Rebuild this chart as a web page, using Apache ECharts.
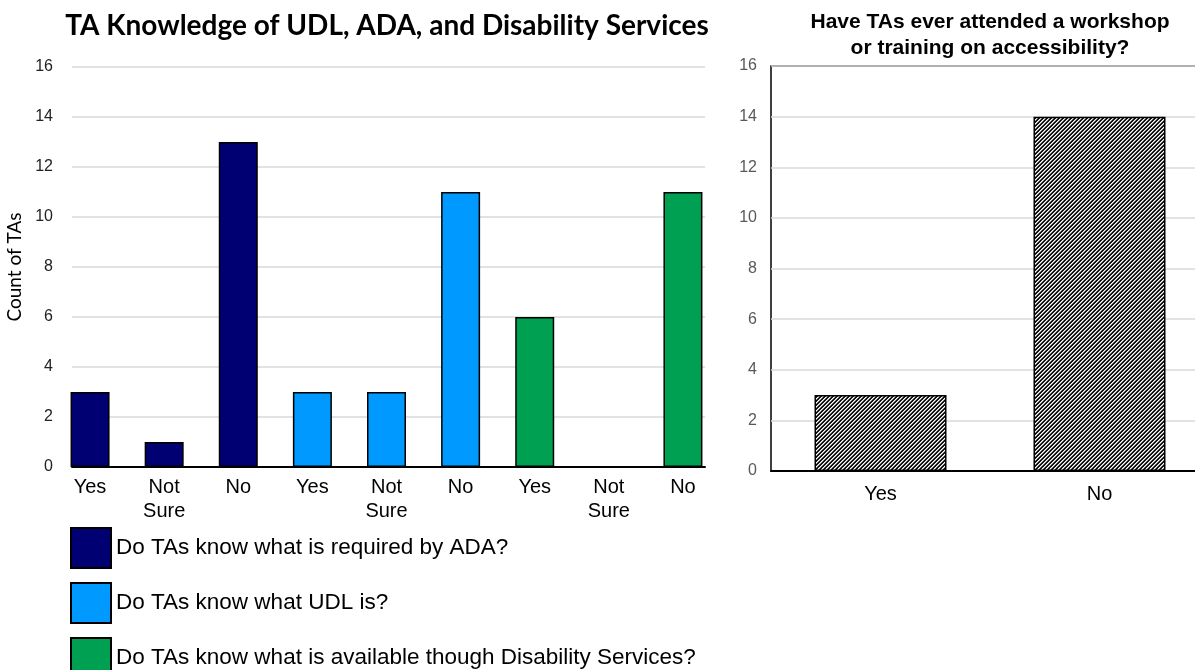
<!DOCTYPE html>
<html>
<head>
<meta charset="utf-8">
<title>TA Knowledge</title>
<script src="https://cdn.jsdelivr.net/npm/echarts@6/dist/echarts.min.js"></script>
<style>
  html, body { margin: 0; padding: 0; background: #fff; }
  #chart { width: 1195px; height: 670px; }
</style>
</head>
<body>
<div id="chart"></div>
<script>
const answers = ["Yes", "Not Sure", "No"];
const questions = [
  "Do TAs know what is required by ADA?",
  "Do TAs know what UDL is?",
  "Do TAs know what is available though Disability Services?"
];
const adaCounts = [3, 1, 13];
const udlCounts = [3, 3, 11];
const dsCounts = [6, 0, 11];
const questionColors = ["#000072", "#0099FF", "#00A052"];
const countTicks = [0, 2, 4, 6, 8, 10, 12, 14, 16];

const workshopAnswers = ["Yes", "No"];
const workshopCounts = [3, 14];

// 9 slots: each question's three answers, one after the other
const slots = [];
questions.forEach(() => answers.forEach(a => slots.push(a)));

function placeGroup(counts, groupIndex) {
  const out = slots.map(() => null);
  counts.forEach((v, i) => { out[groupIndex * answers.length + i] = v; });
  return out;
}

// diagonal hatch for the right chart
function hatch() {
  const c = document.createElement("canvas");
  c.width = 4;
  c.height = 4;
  const ctx = c.getContext("2d");
  const shades = ["#000000", "#2a2a2a", "#ffffff", "#9a9a9a"];
  for (let x = 0; x < 4; x++) {
    for (let y = 0; y < 4; y++) {
      ctx.fillStyle = shades[(x + y) % 4];
      ctx.fillRect(x, y, 1, 1);
    }
  }
  return c;
}

const chart = echarts.init(document.getElementById("chart"));

const axisFont = "Liberation Sans, Arial, sans-serif";

const option = {
  animation: false,
  backgroundColor: "#fff",
  title: [
    {
      text: "TA Knowledge of UDL, ADA, and Disability Services",
      left: 382,
      textAlign: "center",
      top: 7,
      textStyle: { fontFamily: "Lato", fontWeight: "bold", fontSize: 28, color: "#000" }
    },
    {
      text: "Have TAs ever attended a workshop\nor training on accessibility?",
      left: 985,
      textAlign: "center",
      top: 4,
      textStyle: { fontFamily: axisFont, fontWeight: "bold", fontSize: 21, lineHeight: 26, color: "#000" }
    }
  ],
  legend: {
    orient: "vertical",
    left: 70,
    top: 527,
    height: 160,
    padding: 0,
    itemWidth: 40,
    itemHeight: 40,
    itemGap: 13,
    icon: "rect",
    data: questions,
    textStyle: { fontFamily: axisFont, fontSize: 22.5, color: "#000" }
  },
  grid: [
    { left: 72, top: 67, width: 633, height: 400, outerBoundsMode: "none" },
    { left: 53, top: 67, width: 667, height: 400, outerBoundsMode: "none" },
    {
      left: 771, top: 66, width: 438, height: 405, outerBoundsMode: "none",
      show: true, borderColor: "#000", borderWidth: 1.5
    }
  ],
  xAxis: [
    {
      gridIndex: 0,
      type: "category",
      data: slots,
      axisLine: { lineStyle: { color: "#000", width: 2 } },
      axisTick: { show: false },
      axisLabel: { show: false }
    },
    {
      gridIndex: 1,
      type: "category",
      data: slots,
      axisLine: { show: false },
      axisTick: { show: false },
      axisLabel: {
        interval: 0,
        margin: 8,
        fontFamily: axisFont,
        fontSize: 20,
        lineHeight: 24,
        color: "#000",
        formatter: v => v.replace(" ", "\n")
      }
    },
    {
      gridIndex: 2,
      type: "category",
      data: workshopAnswers,
      axisLine: { lineStyle: { color: "#000", width: 2 } },
      axisTick: { show: false },
      axisLabel: { margin: 13, fontFamily: axisFont, fontSize: 20, color: "#000" }
    }
  ],
  yAxis: [
    {
      gridIndex: 0,
      type: "value",
      min: countTicks[0],
      max: countTicks[countTicks.length - 1],
      interval: countTicks[1] - countTicks[0],
      name: "Count of TAs",
      nameLocation: "middle",
      nameGap: 43,
      nameTextStyle: { fontFamily: "Lato", fontSize: 19, color: "#000" },
      axisLine: { show: false },
      axisTick: { show: false },
      axisLabel: { margin: 19, fontFamily: axisFont, fontSize: 16, color: "#222" },
      splitLine: { lineStyle: { color: "#d9d9d9", width: 1.5 } }
    },
    {
      gridIndex: 1,
      type: "value",
      min: countTicks[0],
      max: countTicks[countTicks.length - 1],
      show: false,
      splitLine: { show: false }
    },
    {
      gridIndex: 2,
      type: "value",
      min: countTicks[0],
      max: countTicks[countTicks.length - 1],
      interval: countTicks[1] - countTicks[0],
      axisLine: { show: false },
      axisTick: { show: false },
      axisLabel: { margin: 14, fontFamily: axisFont, fontSize: 16, color: "#595959" },
      splitLine: { lineStyle: { color: "#d9d9d9", width: 1.5 } }
    }
  ],
  series: [
    ...[adaCounts, udlCounts, dsCounts].map((counts, g) => ({
      name: questions[g],
      type: "bar",
      xAxisIndex: 1,
      yAxisIndex: 1,
      barWidth: 39,
      barGap: "-100%",
      data: placeGroup(counts, g),
      itemStyle: { color: questionColors[g], borderColor: "#000", borderWidth: 1.5 }
    })),
    {
      name: "workshop",
      type: "bar",
      xAxisIndex: 2,
      yAxisIndex: 2,
      barWidth: 132,
      data: workshopCounts,
      itemStyle: {
        color: { image: hatch(), repeat: "repeat" },
        borderColor: "#000",
        borderWidth: 1.5
      }
    }
  ]
};

chart.setOption(option);
</script>
</body>
</html>
